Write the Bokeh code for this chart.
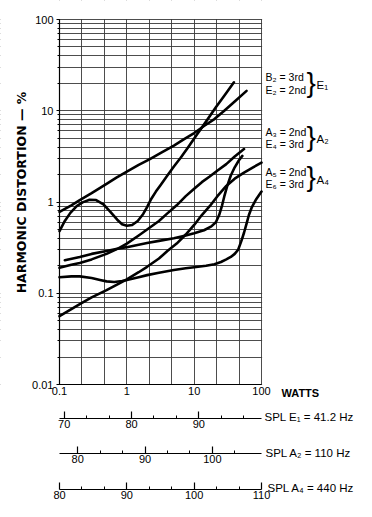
import math
from bokeh.plotting import figure
from bokeh.models import (Range1d, LinearAxis, LinearScale, FixedTicker, Label,
                          CustomJSTickFormatter, BoxAnnotation)
from bokeh.embed import file_html
from bokeh.resources import INLINE

# ---------------- data ----------------
b2_w = [0.1, 0.12, 0.145, 0.18, 0.22, 0.28, 0.35, 0.45, 0.57, 0.72, 0.85, 1.0, 1.2, 1.45,
        1.75, 2.0, 2.3, 2.7, 3.2, 4.0, 5.0, 6.3, 8.0, 11, 15, 21, 28, 39]
b2_d = [0.48, 0.62, 0.76, 0.9, 0.99, 1.06, 1.05, 0.94, 0.78, 0.64, 0.57, 0.55, 0.56, 0.62,
        0.74, 0.88, 1.08, 1.3, 1.55, 1.95, 2.45, 3.05, 3.9, 5.5, 7.6, 10.9, 14.6, 20.5]
e2_w = [0.1, 0.15, 0.2, 0.3, 0.5, 0.7, 1, 1.5, 2.2, 3.2, 5, 7, 10, 14, 20, 28, 40, 60]
e2_d = [0.78, 0.92, 1.05, 1.25, 1.58, 1.85, 2.15, 2.55, 2.95, 3.45, 4.15, 4.85, 5.7, 6.8,
        8.1, 10.0, 12.6, 16.5]
a3_w = [0.1, 0.15, 0.2, 0.3, 0.5, 0.75, 1, 1.5, 2, 3, 4, 5.5, 7.5, 10, 13, 17, 22, 30, 40, 55]
a3_d = [0.19, 0.205, 0.215, 0.235, 0.27, 0.31, 0.35, 0.43, 0.5, 0.62, 0.75, 0.92, 1.16,
        1.4, 1.65, 1.9, 2.2, 2.6, 3.15, 3.8]
e4_w = [0.12, 0.2, 0.3, 0.5, 0.75, 1, 1.5, 2, 3, 5, 7.5, 10, 14, 18, 21, 23.5, 26, 28, 31,
        35, 40, 46, 52]
e4_d = [0.23, 0.25, 0.27, 0.29, 0.31, 0.32, 0.34, 0.355, 0.375, 0.4, 0.43, 0.455, 0.49,
        0.54, 0.6, 0.72, 0.92, 1.15, 1.5, 1.95, 2.4, 2.85, 3.2]
a5_w = [0.1, 0.15, 0.2, 0.3, 0.5, 0.75, 1, 1.5, 2, 3, 4, 5.5, 7.5, 10, 13, 17, 22, 30, 40,
        55, 75, 100]
a5_d = [0.056, 0.067, 0.076, 0.09, 0.108, 0.127, 0.142, 0.17, 0.195, 0.24, 0.29, 0.35, 0.44,
        0.56, 0.72, 0.9, 1.15, 1.5, 1.8, 2.1, 2.4, 2.7]
e6_w = [0.1, 0.15, 0.2, 0.3, 0.4, 0.5, 0.65, 0.85, 1, 1.5, 2, 3, 5, 7.5, 10, 15, 20, 25, 30,
        35, 40, 45, 50, 55, 60, 65, 72, 82, 100]
e6_d = [0.15, 0.153, 0.153, 0.147, 0.14, 0.135, 0.133, 0.136, 0.14, 0.15, 0.158, 0.168, 0.18,
        0.188, 0.193, 0.2, 0.208, 0.22, 0.235, 0.25, 0.27, 0.3, 0.37, 0.46, 0.58, 0.72, 0.88,
        1.05, 1.3]

x_ticks = [0.1, 1, 10, 100]
y_ticks = [0.01, 0.1, 1, 10, 100]
x_grid = [0.1, 0.215, 0.464, 1, 2.15, 4.64, 10, 21.5, 46.4, 100]
y_grid = [m * d for d in [0.01, 0.1, 1, 10] for m in range(1, 10)] + [100]

# SPL scales (dB); each spans 30 dB over the 3 power decades
e1_start, e1_major = 69.3, [70, 80, 90]
e1_minor = [73.33, 76.67, 83.33, 86.67, 93.33, 96.67]
a2_start, a2_major = 77.3, [80, 90, 100]
a2_minor = [83.33, 86.67, 93.33, 96.67, 103.33]
a4_start, a4_major = 80.0, [80, 90, 100, 110]
a4_minor = [83.33, 86.67, 93.33, 96.67, 103.33, 106.67]

# ---------------- layout (page pixels) ----------------
FONT = "Liberation Sans"
W, H = 364, 507
PX_L, PX_R = 59, 261          # x of 0.1 W and 100 W
PX_T, PX_B = 19, 384          # y of 100 % and 0.01 %
DX = (PX_R - PX_L) / 3.0      # px per decade (x)
DY = (PX_B - PX_T) / 4.0      # px per decade (y)
Y_E1, Y_A2, Y_A4 = 418, 453, 489   # y of the SPL scale lines


def xval(px):
    return 0.1 * 10 ** ((px - PX_L) / DX)


def yval(py):
    return 0.01 * 10 ** ((PX_B - py) / DY)


def spl_range(start):
    return Range1d(start - PX_L / DX * 10, start + (W - PX_L) / DX * 10)


p = figure(width=W, height=H, x_axis_type="log", y_axis_type="log",
           x_range=Range1d(xval(0), xval(W)), y_range=Range1d(yval(H), yval(0)),
           output_backend="svg", toolbar_location=None,
           min_border_left=0, min_border_right=0, min_border_top=0, min_border_bottom=0)
p.background_fill_color = "white"
p.border_fill_color = "white"
p.outline_line_color = None

p.extra_x_ranges = {"e1": spl_range(e1_start), "a2": spl_range(a2_start),
                    "a4": spl_range(a4_start)}
p.extra_x_scales = {"e1": LinearScale(), "a2": LinearScale(), "a4": LinearScale()}

# grids
p.xgrid.ticker = FixedTicker(ticks=x_grid)
p.ygrid.ticker = FixedTicker(ticks=y_grid)
for g in (p.xgrid, p.ygrid):
    g.grid_line_color = "#3a3a3a"
    g.grid_line_width = 1
    g.grid_line_alpha = 0.9

# white covers: keep the grid inside the chart rectangle only
for kw in (dict(right=xval(PX_L - 0.6)), dict(left=xval(PX_R + 0.6)),
           dict(bottom=yval(PX_T - 0.6)), dict(top=yval(PX_B + 0.6))):
    p.add_layout(BoxAnnotation(fill_color="white", fill_alpha=1, line_color=None,
                               level="underlay", **kw))

fmt = CustomJSTickFormatter(code="return tick.toString();")

xa = p.xaxis[0]
xa.fixed_location = yval(PX_B)
xa.bounds = (0.1, 100)
xa.ticker = FixedTicker(ticks=x_ticks)
xa.formatter = fmt
xa.major_tick_in = 0
xa.major_tick_out = 0
xa.minor_tick_in = 0
xa.minor_tick_out = 0
xa.major_label_standoff = 2

ya = p.yaxis[0]
ya.fixed_location = xval(PX_L)
ya.bounds = (0.01, 100)
ya.ticker = FixedTicker(ticks=y_ticks, minor_ticks=y_grid)
ya.formatter = fmt
ya.major_tick_in = 0
ya.major_tick_out = 3
ya.minor_tick_in = 0
ya.minor_tick_out = 2
ya.major_label_standoff = 3

for ax in (xa, ya):
    ax.major_label_text_font = FONT
    ax.major_label_text_font_size = "11px"
    ax.major_label_text_color = "black"
    ax.axis_line_color = "black"
    ax.axis_line_width = 1.2
    ax.major_tick_line_color = "black"
    ax.minor_tick_line_color = "black"


def spl_axis(name, start, major, minor, py):
    ax = LinearAxis(x_range_name=name, ticker=FixedTicker(ticks=major, minor_ticks=minor))
    ax.fixed_location = yval(py)
    ax.bounds = (start, start + 30)
    ax.major_tick_in = 7
    ax.major_tick_out = 0
    ax.minor_tick_in = 3
    ax.minor_tick_out = 0
    ax.major_label_standoff = 1
    ax.major_label_text_font = FONT
    ax.major_label_text_font_size = "11px"
    ax.major_label_text_color = "black"
    ax.axis_line_color = "black"
    ax.axis_line_width = 1.2
    ax.major_tick_line_color = "black"
    ax.minor_tick_line_color = "black"
    ax.major_tick_line_width = 1.2
    p.add_layout(ax, "below")
    return ax


spl_axis("e1", e1_start, e1_major, e1_minor, Y_E1)
spl_axis("a2", a2_start, a2_major, a2_minor, Y_A2)
spl_axis("a4", a4_start, a4_major, a4_minor, Y_A4)

# curves
for w, d in [(b2_w, b2_d), (e2_w, e2_d), (a3_w, a3_d), (e4_w, e4_d), (a5_w, a5_d), (e6_w, e6_d)]:
    p.line(w, d, line_width=2.6, line_color="black", line_join="round", line_cap="round")


def txt(px, py, s, size="10px", bold=False, font=FONT, angle=0.0, align="left"):
    p.add_layout(Label(x=px, y=H - py, x_units="screen", y_units="screen", text=s,
                       text_font=font, text_font_size=size, angle=angle,
                       text_font_style="bold" if bold else "normal",
                       text_color="black", text_baseline="middle", text_align=align))


txt(21, 192, "HARMONIC DISTORTION \u2014 %", size="12.5px", bold=True, font="DejaVu Sans",
    angle=math.pi / 2, align="center")

txt(265, 76, "B\u2082 = 3rd", size="10.5px")
txt(265, 89, "E\u2082 = 2nd", size="10.5px")
txt(306, 82, "}", size="28px")
txt(316, 84, "E\u2081", size="11.5px")

txt(265, 131, "A\u2083 = 2nd", size="10.5px")
txt(265, 143, "E\u2084 = 3rd", size="10.5px")
txt(306, 136, "}", size="28px")
txt(316, 138, "A\u2082", size="11.5px")

txt(265, 171, "A\u2085 = 2nd", size="10.5px")
txt(265, 183, "E\u2086 = 3rd", size="10.5px")
txt(306, 176, "}", size="28px")
txt(316, 179, "A\u2084", size="11.5px")

txt(281, 392, "WATTS", size="11px", bold=True)
txt(264, 416, "SPL  E\u2081 = 41.2 Hz", size="11.5px")
txt(265, 452, "SPL  A\u2082 = 110 Hz", size="11.5px")
txt(267, 487, "SPL  A\u2084 = 440 Hz", size="11.5px")

open("out.html", "w").write(file_html(p, INLINE))
